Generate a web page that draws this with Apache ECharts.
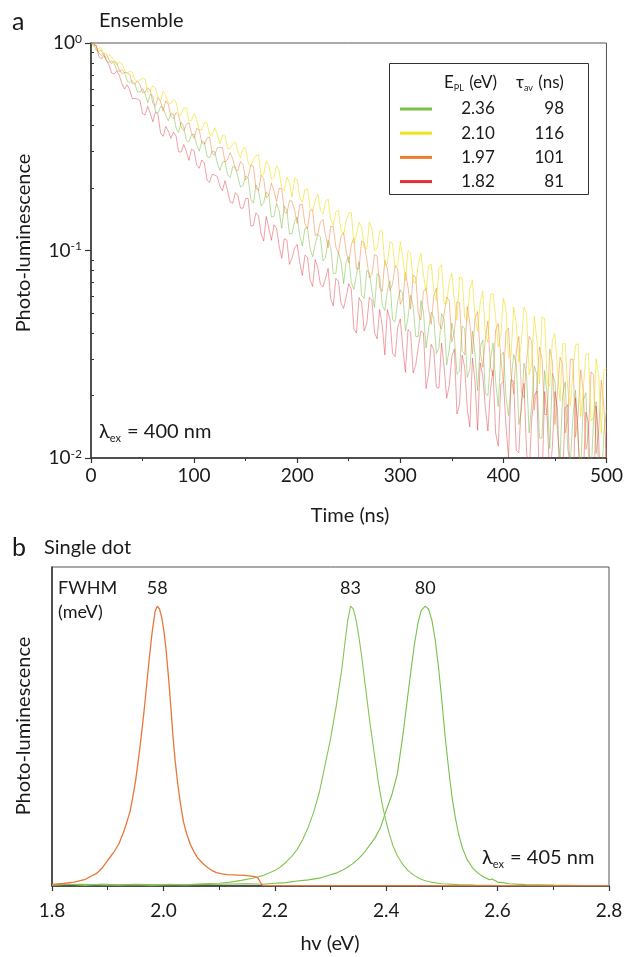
<!DOCTYPE html>
<html><head><meta charset="utf-8">
<script src="https://cdn.jsdelivr.net/npm/echarts@6/dist/echarts.min.js"></script>
<style>html,body{margin:0;padding:0;background:#fff}#c{width:626px;height:957px}</style>
</head><body><div id="c"></div><script>
const FONT = 'Lato, "Noto Sans", sans-serif';

// ---------- Panel a: PL decay (ensemble) ----------
const timeNs = [0,2.5,5,7.5,10,12.5,15,17.5,20,22.5,25,27.5,30,32.5,35,37.5,40,42.5,45,47.5,
50,52.5,55,57.5,60,62.5,65,67.5,70,72.5,75,77.5,80,82.5,85,87.5,90,92.5,95,97.5,
100,102.5,105,107.5,110,112.5,115,117.5,120,122.5,125,127.5,130,132.5,135,137.5,140,142.5,145,147.5,
150,152.5,155,157.5,160,162.5,165,167.5,170,172.5,175,177.5,180,182.5,185,187.5,190,192.5,195,197.5,
200,202.5,205,207.5,210,212.5,215,217.5,220,222.5,225,227.5,230,232.5,235,237.5,240,242.5,245,247.5,
250,252.5,255,257.5,260,262.5,265,267.5,270,272.5,275,277.5,280,282.5,285,287.5,290,292.5,295,297.5,
300,302.5,305,307.5,310,312.5,315,317.5,320,322.5,325,327.5,330,332.5,335,337.5,340,342.5,345,347.5,
350,352.5,355,357.5,360,362.5,365,367.5,370,372.5,375,377.5,380,382.5,385,387.5,390,392.5,395,397.5,
400,402.5,405,407.5,410,412.5,415,417.5,420,422.5,425,427.5,430,432.5,435,437.5,440,442.5,445,447.5,
450,452.5,455,457.5,460,462.5,465,467.5,470,472.5,475,477.5,480,482.5,485,487.5,490,492.5,495,497.5,
500];

const decayGreen = [1.00,0.997,0.925,0.914,0.920,0.883,0.818,0.804,0.820,0.799,0.738,0.730,0.743,0.723,0.656,0.643,0.658,0.638,0.581,0.581,
0.603,0.569,0.515,0.567,0.555,0.469,0.458,0.494,0.488,0.450,0.422,0.455,0.454,0.389,0.371,0.416,0.394,0.338,0.333,0.362,
0.363,0.323,0.301,0.336,0.333,0.284,0.280,0.300,0.299,0.264,0.243,0.266,0.269,0.232,0.225,0.254,0.252,0.226,0.202,0.206,
0.229,0.224,0.177,0.169,0.207,0.195,0.164,0.170,0.191,0.186,0.145,0.146,0.169,0.155,0.128,0.164,0.156,0.120,0.121,0.138,
0.145,0.118,0.105,0.128,0.129,0.102,0.0933,0.107,0.120,0.116,0.0891,0.0925,0.112,0.104,0.0776,0.0776,0.0977,0.0887,0.0692,0.0883,
0.0933,0.0702,0.0650,0.0765,0.0883,0.0610,0.0587,0.0801,0.0780,0.0639,0.0531,0.0772,0.0755,0.0544,0.0514,0.0643,0.0714,0.0463,0.0454,0.0571,
0.0646,0.0621,0.0409,0.0474,0.0608,0.0537,0.0385,0.0385,0.0573,0.0505,0.0339,0.0419,0.0504,0.0474,0.0319,0.0340,0.0497,0.0465,0.0281,0.0333,
0.0447,0.0381,0.0253,0.0263,0.0433,0.0421,0.0245,0.0266,0.0409,0.0316,0.0211,0.0342,0.0370,0.0204,0.0200,0.0298,0.0358,0.0233,0.0177,0.0311,
0.0324,0.0197,0.0160,0.0234,0.0315,0.0286,0.0145,0.0171,0.0286,0.0250,0.0132,0.0180,0.0278,0.0252,0.0125,0.0125,0.0264,0.0199,0.0111,0.0256,
0.0234,0.0132,0.0101,0.0201,0.0233,0.0109,0.0096,0.0158,0.0212,0.0119,0.0085,0.0189,0.0206,0.0102,0.0081,0.0155,0.0187,0.0080,0.0072,0.0132,
0.0170];

const decayYellow = [1.00,0.962,0.935,0.940,0.948,0.872,0.847,0.879,0.859,0.816,0.785,0.811,0.796,0.737,0.716,0.730,0.724,0.666,0.652,0.665,
0.676,0.668,0.578,0.594,0.622,0.603,0.545,0.525,0.586,0.558,0.513,0.511,0.533,0.518,0.451,0.451,0.485,0.486,0.420,0.424,
0.457,0.427,0.383,0.381,0.413,0.412,0.362,0.359,0.391,0.363,0.327,0.358,0.357,0.309,0.310,0.327,0.334,0.300,0.280,0.311,
0.313,0.264,0.253,0.275,0.286,0.290,0.229,0.232,0.270,0.256,0.221,0.227,0.256,0.242,0.200,0.194,0.226,0.214,0.181,0.223,
0.219,0.181,0.171,0.197,0.198,0.161,0.155,0.174,0.187,0.156,0.150,0.172,0.177,0.141,0.132,0.154,0.156,0.125,0.119,0.139,
0.151,0.153,0.108,0.120,0.137,0.129,0.103,0.102,0.137,0.127,0.100,0.102,0.124,0.125,0.0847,0.0863,0.110,0.108,0.0824,0.0847,
0.110,0.0929,0.0714,0.100,0.0973,0.0705,0.0695,0.0863,0.0968,0.0759,0.0631,0.0847,0.0859,0.0643,0.0573,0.0817,0.0855,0.0555,0.0557,0.0705,
0.0776,0.0570,0.0461,0.0745,0.0738,0.0474,0.0459,0.0655,0.0718,0.0479,0.0407,0.0560,0.0637,0.0398,0.0361,0.0614,0.0619,0.0474,0.0344,0.0387,
0.0589,0.0520,0.0305,0.0313,0.0535,0.0445,0.0290,0.0363,0.0532,0.0497,0.0251,0.0286,0.0483,0.0370,0.0228,0.0479,0.0470,0.0229,0.0222,0.0370,
0.0398,0.0265,0.0188,0.0356,0.0355,0.0213,0.0179,0.0265,0.0350,0.0356,0.0158,0.0213,0.0316,0.0319,0.0151,0.0158,0.0300,0.0247,0.0131,0.0265,
0.0270];

const decayOrange = [1.00,0.995,0.973,0.895,0.873,0.893,0.883,0.829,0.794,0.818,0.804,0.741,0.713,0.722,0.718,0.706,0.637,0.635,0.656,0.629,
0.575,0.579,0.608,0.593,0.511,0.497,0.546,0.521,0.469,0.526,0.507,0.444,0.431,0.462,0.450,0.393,0.378,0.406,0.413,0.368,
0.347,0.388,0.381,0.331,0.325,0.347,0.353,0.294,0.288,0.313,0.313,0.314,0.267,0.275,0.296,0.276,0.247,0.242,0.269,0.259,
0.219,0.226,0.258,0.255,0.200,0.194,0.231,0.222,0.179,0.185,0.211,0.193,0.172,0.200,0.198,0.154,0.151,0.174,0.173,0.156,
0.135,0.166,0.167,0.135,0.127,0.156,0.157,0.118,0.120,0.137,0.141,0.119,0.103,0.131,0.130,0.104,0.0968,0.117,0.122,0.0993,
0.0871,0.107,0.115,0.0815,0.0820,0.111,0.109,0.0904,0.0738,0.0766,0.0955,0.0942,0.0664,0.0635,0.0899,0.0815,0.0640,0.0690,0.0847,0.0815,
0.0550,0.0586,0.0783,0.0667,0.0522,0.0759,0.0745,0.0493,0.0463,0.0635,0.0661,0.0519,0.0441,0.0603,0.0658,0.0444,0.0419,0.0494,0.0597,0.0574,
0.0363,0.0407,0.0566,0.0560,0.0328,0.0314,0.0536,0.0446,0.0318,0.0469,0.0507,0.0325,0.0274,0.0374,0.0458,0.0274,0.0248,0.0413,0.0444,0.0304,
0.0234,0.0407,0.0422,0.0251,0.0204,0.0327,0.0385,0.0208,0.0195,0.0294,0.0385,0.0364,0.0170,0.0223,0.0343,0.0300,0.0162,0.0162,0.0335,0.0292,
0.0145,0.0211,0.0305,0.0284,0.0132,0.0154,0.0299,0.0300,0.0126,0.0162,0.0266,0.0210,0.0110,0.0128,0.0260,0.0251,0.0105,0.0136,0.0237,0.0175,
0.0100];

const decayRed = [1.00,0.978,0.975,0.866,0.838,0.872,0.826,0.782,0.718,0.709,0.733,0.698,0.637,0.600,0.628,0.596,0.540,0.540,0.538,0.527,
0.457,0.450,0.495,0.458,0.417,0.465,0.452,0.368,0.355,0.396,0.376,0.347,0.372,0.356,0.299,0.298,0.324,0.300,0.272,0.308,
0.302,0.258,0.249,0.273,0.264,0.219,0.213,0.233,0.231,0.227,0.204,0.194,0.217,0.194,0.171,0.169,0.190,0.184,0.160,0.160,
0.178,0.178,0.131,0.132,0.152,0.147,0.120,0.111,0.146,0.128,0.112,0.133,0.128,0.105,0.0916,0.114,0.112,0.0857,0.0920,0.103,
0.107,0.0876,0.0757,0.0949,0.0929,0.0722,0.0671,0.0904,0.0824,0.0688,0.0668,0.0734,0.0820,0.0586,0.0541,0.0734,0.0711,0.0558,0.0526,0.0595,
0.0692,0.0649,0.0418,0.0400,0.0592,0.0563,0.0410,0.0444,0.0594,0.0576,0.0403,0.0375,0.0520,0.0435,0.0314,0.0519,0.0466,0.0320,0.0308,0.0426,
0.0468,0.0337,0.0259,0.0415,0.0404,0.0257,0.0281,0.0344,0.0409,0.0401,0.0216,0.0255,0.0353,0.0332,0.0219,0.0217,0.0358,0.0275,0.0194,0.0224,
0.0309,0.0335,0.0163,0.0181,0.0313,0.0274,0.0173,0.0141,0.0303,0.0233,0.0136,0.0287,0.0250,0.0175,0.0135,0.0216,0.0265,0.0132,0.0114,0.0226,
0.0234,0.0144,0.0101,0.0238,0.0234,0.0109,0.0106,0.0189,0.0229,0.0107,0.0084,0.0154,0.0200,0.0210,0.0073,0.0076,0.0209,0.0156,0.0080,0.0113,
0.0209,0.0173,0.0062,0.0079,0.0174,0.0181,0.0064,0.0059,0.0195,0.0134,0.0056,0.0082,0.0166,0.0149,0.0058,0.0061,0.0178,0.0124,0.0045,0.0067,
0.0138];

const legendEnergy = ['2.36','2.10','1.97','1.82'];
const legendTau = ['98','116','101','81'];
const yMinorTicksA = [0.02,0.03,0.04,0.05,0.06,0.07,0.08,0.09,0.2,0.3,0.4,0.5,0.6,0.7,0.8,0.9];

// ---------- Panel b: single-dot spectra ----------
const energyOrange = [1.80,1.82,1.84,1.86,1.88,1.89,1.90,1.91,1.92,1.93,1.94,1.945,1.95,1.955,1.96,1.965,1.97,1.975,1.98,1.985,1.989,1.993,1.997,2.001,2.005,2.009,2.013,2.017,2.021,2.026,2.031,2.036,2.042,2.048,2.055,2.062,2.07,2.078,2.086,2.095,2.105,2.115,2.125,2.135,2.145,2.155,2.165,2.170,2.175,2.178,2.20,2.40,2.60,2.80];
const plOrange =     [0.006,0.009,0.014,0.024,0.045,0.064,0.092,0.118,0.150,0.200,0.265,0.318,0.375,0.45,0.53,0.62,0.72,0.82,0.91,0.98,1.0,0.99,0.96,0.91,0.84,0.75,0.65,0.54,0.45,0.36,0.29,0.23,0.185,0.15,0.122,0.099,0.082,0.068,0.057,0.048,0.043,0.041,0.040,0.039,0.038,0.036,0.033,0.028,0.010,0.002,0.001,0.001,0.001,0.001];

const energyGreen1 = [1.80,1.83,1.86,1.89,1.92,1.95,1.98,2.01,2.04,2.07,2.10,2.12,2.14,2.16,2.18,2.20,2.21,2.22,2.23,2.24,2.25,2.26,2.27,2.28,2.29,2.30,2.31,2.32,2.326,2.331,2.336,2.341,2.346,2.351,2.356,2.361,2.366,2.371,2.376,2.381,2.386,2.392,2.398,2.405,2.412,2.42,2.43,2.44,2.45,2.46,2.47,2.48,2.50,2.53,2.56,2.60,2.65,2.70,2.80];
const plGreen1 =     [0.003,0.006,0.002,0.007,0.003,0.005,0.002,0.006,0.004,0.008,0.010,0.014,0.020,0.028,0.038,0.055,0.068,0.085,0.105,0.130,0.165,0.21,0.265,0.335,0.43,0.525,0.64,0.77,0.87,0.95,1.0,0.99,0.95,0.89,0.82,0.74,0.66,0.58,0.51,0.44,0.37,0.30,0.245,0.19,0.145,0.108,0.076,0.054,0.038,0.027,0.019,0.014,0.008,0.005,0.003,0.002,0.002,0.001,0.001];

const energyGreen2 = [1.80,1.85,1.90,1.95,2.00,2.05,2.10,2.15,2.18,2.20,2.22,2.24,2.26,2.28,2.29,2.30,2.31,2.32,2.33,2.34,2.35,2.36,2.37,2.38,2.39,2.40,2.41,2.42,2.43,2.44,2.45,2.457,2.463,2.47,2.476,2.482,2.488,2.494,2.50,2.506,2.512,2.518,2.524,2.53,2.537,2.545,2.555,2.565,2.575,2.58,2.585,2.59,2.60,2.61,2.62,2.65,2.70,2.75,2.80];
const plGreen2 =     [0.004,0.006,0.003,0.006,0.004,0.005,0.006,0.008,0.006,0.010,0.012,0.018,0.022,0.028,0.034,0.040,0.046,0.055,0.066,0.080,0.097,0.118,0.145,0.172,0.21,0.27,0.325,0.40,0.54,0.70,0.855,0.94,0.985,1.0,0.99,0.95,0.88,0.78,0.66,0.53,0.42,0.32,0.245,0.185,0.135,0.095,0.065,0.045,0.032,0.028,0.022,0.025,0.014,0.012,0.008,0.005,0.003,0.002,0.002];

const fwhmLabels = [{text:'58', e:1.989},{text:'83', e:2.336},{text:'80', e:2.47}];

// ---------- layout ----------
const GA = {left:91, top:43, width:518, height:415};
const GB = {left:52, top:567, width:557, height:319};
const AX = '#333';
const txt = '#1a1a1a';

function pairs(xs, ys){ return xs.map((x,i)=>[x, ys[i]]); }

const lineA = (name, data, color, z, op) => ({
  name, type:'line', xAxisIndex:0, yAxisIndex:0, data: pairs(timeNs, data),
  showSymbol:false, symbol:'none', clip:true, z,
  lineStyle:{color, width:0.9, opacity:op}, animation:false
});
const lineB = (name, xs, ys, color, w) => ({
  name, type:'line', xAxisIndex:1, yAxisIndex:2, data: pairs(xs, ys),
  showSymbol:false, symbol:'none', clip:true,
  lineStyle:{color, width:w}, animation:false
});

const legendColors = ['#7cbf44','#f2e31f','#ee7b32','#df2f3a'];
const richSub = (size, sub) => ({a:{fontSize:size, fontFamily:FONT, fill:txt, lineHeight:size+3}, b:{fontSize:sub, fontFamily:FONT, fill:txt, lineHeight:sub, verticalAlign:'bottom', padding:[0,1,0,0]}});
const legendGraphics = [];
legendGraphics.push({type:'rect', shape:{x:389.5, y:63.5, width:199, height:131}, style:{fill:'#fff', stroke:'#333', lineWidth:1}, z:100});
legendGraphics.push({type:'text', x:444, y:83, z:101, style:{text:'{a|E}{b|PL}{a| (eV)}', textVerticalAlign:'middle', rich:richSub(17,9)}});
legendGraphics.push({type:'text', x:516, y:83, z:101, style:{text:'{a|τ}{b|av}{a| (ns)}', textVerticalAlign:'middle', rich:richSub(17,9)}});
legendEnergy.forEach((e,i)=>{
  const y = 109 + i*24.2;
  legendGraphics.push({type:'line', z:101, shape:{x1:400, y1:y, x2:432, y2:y}, style:{stroke:legendColors[i], lineWidth:3}});
  legendGraphics.push({type:'text', z:101, x:478, y:y, style:{text:e, textAlign:'center', textVerticalAlign:'middle', fontSize:17, fontFamily:FONT, fill:txt}});
  legendGraphics.push({type:'text', z:101, x:564, y:y, style:{text:legendTau[i], textAlign:'right', textVerticalAlign:'middle', fontSize:17, fontFamily:FONT, fill:txt}});
});

const labelText = (text, x, y, size, align) => ({type:'text', x, y, z:50, style:{text, fontSize:size, fontFamily:FONT, fill:txt, textAlign:align||'left', textVerticalAlign:'middle'}});
const lambdaText = (x, y, val) => ({type:'text', x, y, z:50, style:{text:'{a|λ}{b|ex}{a| = '+val+' nm}', textVerticalAlign:'middle', rich:richSub(20,11)}});

const chart = echarts.init(document.getElementById('c'), null, {renderer:'canvas'});
chart.setOption({
  animation:false,
  backgroundColor:'#fff',
  grid:[
    Object.assign({show:true, borderColor:'#555', borderWidth:1, backgroundColor:'transparent'}, GA),
    Object.assign({show:true, borderColor:'#555', borderWidth:1, backgroundColor:'transparent'}, GB)
  ],
  xAxis:[
    {type:'value', gridIndex:0, min:0, max:500, interval:100,
     axisLine:{show:true, onZero:false, lineStyle:{color:AX, width:1.5}},
     axisTick:{show:true, inside:false, length:5, lineStyle:{color:AX, width:1.2}},
     minorTick:{show:true, splitNumber:2, length:3, lineStyle:{color:AX, width:1}},
     axisLabel:{fontSize:19, fontFamily:FONT, color:txt, margin:8},
     splitLine:{show:false}},
    {type:'value', gridIndex:1, min:1.8, max:2.8, interval:0.2,
     axisLine:{show:true, onZero:false, lineStyle:{color:AX, width:1.5}},
     axisTick:{show:true, inside:false, length:5, lineStyle:{color:AX, width:1.2}},
     minorTick:{show:true, splitNumber:2, length:4, lineStyle:{color:AX, width:1}},
     axisLabel:{fontSize:19, fontFamily:FONT, color:txt, margin:15, formatter:v=>v.toFixed(1)},
     splitLine:{show:false}}
  ],
  yAxis:[
    {type:'log', logBase:10, gridIndex:0, min:0.01, max:1,
     axisLine:{show:true, onZero:false, lineStyle:{color:AX, width:1.5}},
     axisTick:{show:true, inside:false, length:6, lineStyle:{color:AX, width:1.2}},
     axisLabel:{fontFamily:FONT, color:txt, margin:9,
       formatter:v=>'{b|10}{s|'+Math.round(Math.log10(v))+'}',
       rich:{b:{fontSize:19, fontFamily:FONT, color:txt, lineHeight:20}, s:{fontSize:12, fontFamily:FONT, color:txt, lineHeight:12, verticalAlign:'top'}}},
     splitLine:{show:false}, minorTick:{show:false}},
    {type:'log', logBase:10, gridIndex:0, min:0.01, max:1,
     axisLine:{show:false},
     axisTick:{show:true, inside:false, length:3, customValues:yMinorTicksA, lineStyle:{color:AX, width:1}},
     axisLabel:{show:false}, splitLine:{show:false}},
    {type:'value', gridIndex:1, min:0, max:1.14,
     axisLine:{show:true, onZero:false, lineStyle:{color:AX, width:1.5}},
     axisTick:{show:false}, axisLabel:{show:false}, splitLine:{show:false}}
  ],
  series:[
    lineA('2.36 eV', decayGreen, '#7cbf44', 2, 0.6),
    lineA('1.97 eV', decayOrange, '#ee7b32', 3, 0.55),
    lineA('2.10 eV', decayYellow, '#f0df10', 4, 0.65),
    lineA('1.82 eV', decayRed, '#e0303a', 5, 0.5),
    lineB('2.47 eV dot', energyGreen2, plGreen2, '#78bf48', 1.1),
    lineB('2.34 eV dot', energyGreen1, plGreen1, '#86c451', 1.1),
    lineB('1.99 eV dot', energyOrange, plOrange, '#e8773a', 1.3)
  ],
  graphic:[
    labelText('a', 12, 22, 25, 'left'),
    labelText('Ensemble', 99, 21, 20, 'left'),
    labelText('b', 12, 548, 25, 'left'),
    labelText('Single dot', 44, 548, 20, 'left'),
    labelText('Time (ns)', 350, 516, 20, 'center'),
    labelText('hv (eV)', 330, 944, 20, 'center'),
    {type:'text', x:24, y:243, rotation:Math.PI/2, z:50, style:{text:'Photo-luminescence', fontSize:20, fontFamily:FONT, fill:txt, textAlign:'center', textVerticalAlign:'middle'}},
    {type:'text', x:24, y:726, rotation:Math.PI/2, z:50, style:{text:'Photo-luminescence', fontSize:20, fontFamily:FONT, fill:txt, textAlign:'center', textVerticalAlign:'middle'}},
    lambdaText(99, 432, '400'),
    lambdaText(482, 858, '405'),
    labelText('FWHM', 58, 588, 18, 'left'),
    labelText('(meV)', 58, 612, 18, 'left'),
    ...fwhmLabels.map(f=>labelText(f.text, GB.left + (f.e-1.8)/1.0*GB.width, 588, 18, 'center')),
    ...legendGraphics
  ]
});
</script></body></html>
